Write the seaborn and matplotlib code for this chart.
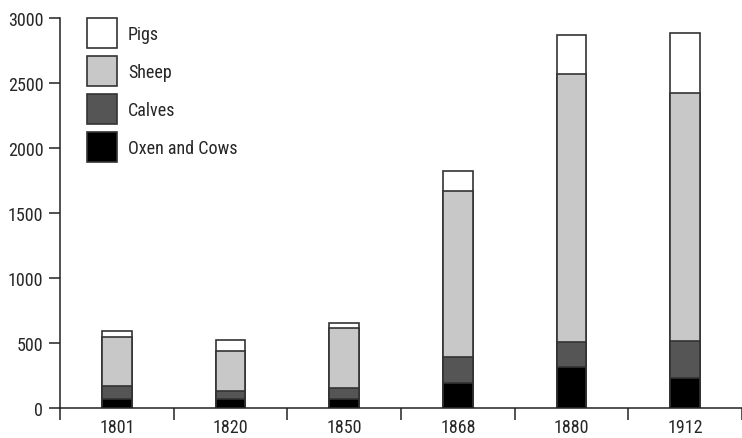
import matplotlib
matplotlib.use("Agg")
import matplotlib.pyplot as plt
from matplotlib import font_manager
from matplotlib.patches import Patch
from matplotlib.ticker import FixedLocator
import numpy as np
import pandas as pd
import seaborn as sns

years = ["1801", "1820", "1850", "1868", "1880", "1912"]
oxen = [70, 70, 75, 195, 315, 230]
calves = [105, 63, 80, 203, 197, 290]
sheep = [370, 309, 460, 1272, 2063, 1902]
pigs = [47, 82, 42, 152, 295, 468]

labels = ["Pigs", "Sheep", "Calves", "Oxen and Cows"]
colors = ["#ffffff", "#c8c8c8", "#555555", "#000000"]

sns.set_style("white")

# the original uses a narrow helvetica; take a narrow face if one is installed
installed = {f.name for f in font_manager.fontManager.ttflist}
fam, fs = "Liberation Sans", 12
for cand in ["Liberation Sans Narrow", "Arial Narrow", "Roboto Condensed"]:
    if cand in installed:
        fam, fs = cand, 13
        break
plt.rcParams["font.family"] = [fam, "DejaVu Sans"]

# cumulative tops, drawn from the tallest layer down
c1 = np.array(oxen)
c2 = c1 + np.array(calves)
c3 = c2 + np.array(sheep)
c4 = c3 + np.array(pigs)
df = pd.DataFrame({"year": years, "Pigs": c4, "Sheep": c3,
                   "Calves": c2, "Oxen and Cows": c1})

fig = plt.figure(figsize=(7.42, 4.39), dpi=100)
ax = fig.add_axes([0.0809, 0.0677, 0.9191, 0.8883])

for lab, col in zip(labels, colors):
    sns.barplot(data=df, x="year", y=lab, color=col, width=0.26,
                edgecolor="#333333", linewidth=1.2, saturation=1, ax=ax)

ax.set_xlim(-0.5, 5.5)
ax.set_ylim(0, 3000)
ax.set_yticks([0, 500, 1000, 1500, 2000, 2500, 3000])
ax.set_xlabel("")
ax.set_ylabel("")
sns.despine(ax=ax, top=True, right=True)
for s in ["left", "bottom"]:
    ax.spines[s].set_color("#222222")
    ax.spines[s].set_linewidth(1.1)

ax.tick_params(axis="y", direction="out", length=7.7, width=1.1, color="#222222",
               labelsize=fs, pad=4.3, left=True)
ax.tick_params(axis="x", which="major", length=0, labelsize=fs, pad=6.8)
ax.xaxis.set_minor_locator(FixedLocator(np.arange(-0.5, 6, 1)))
ax.tick_params(axis="x", which="minor", direction="out", length=8.4, width=1.1,
               color="#222222", bottom=True)

# legend boxes are 30 px squares, rows 38 px apart
hl = 21.6 / fs
hh = (21.6 - 0.35 * fs * 0.7) / (fs * 0.65)
ls = 5.76 / fs
handles = [Patch(facecolor=c, edgecolor="#333333", linewidth=1.2) for c in colors]
ax.legend(handles, labels, loc="upper left", bbox_to_anchor=(0.0396, 1.0),
          frameon=False, fontsize=fs, handlelength=hl, handleheight=hh,
          labelspacing=ls, handletextpad=0.6, borderpad=0, borderaxespad=0)

fig.savefig("out.png", dpi=100)
